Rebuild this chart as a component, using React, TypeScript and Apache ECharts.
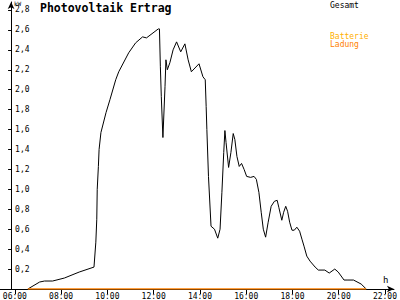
import React, { useEffect, useRef } from "react";
import * as echarts from "echarts";

const pvHours = [
  6.56, 7.07, 7.28, 7.63, 8.14, 8.78, 9.42, 9.5, 9.54, 9.56, 9.61, 9.64, 9.72, 9.94,
  10.11, 10.36, 10.49, 10.92, 11.22, 11.52, 11.69, 12.2, 12.25, 12.29, 12.33, 12.4,
  12.49, 12.53, 12.59, 12.7, 12.84, 12.99, 13.17, 13.35, 13.49, 13.63, 13.96, 14.13,
  14.23, 14.27, 14.3, 14.37, 14.48, 14.63, 14.77, 14.87, 14.95, 15.03, 15.08, 15.13,
  15.24, 15.34, 15.44, 15.51, 15.6, 15.7, 15.8, 15.91, 16.02, 16.19, 16.34, 16.44,
  16.55, 16.65, 16.74, 16.84, 16.95, 17.08, 17.22, 17.34, 17.41, 17.54, 17.62, 17.71,
  17.79, 17.88, 17.98, 18.08, 18.19, 18.31, 18.41, 18.5, 18.62, 18.76, 18.98, 19.12,
  19.4, 19.59, 19.83, 19.98, 20.23, 20.4, 20.64, 20.97, 21.19,
];
const pvValues = [
  0, 0.07, 0.08, 0.08, 0.11, 0.17, 0.22, 0.47, 0.7, 1.0, 1.23, 1.4, 1.57, 1.77,
  1.9, 2.1, 2.18, 2.37, 2.47, 2.53, 2.52, 2.61, 2.61, 2.23, 1.93, 1.52,
  2.03, 2.3, 2.2, 2.27, 2.4, 2.48, 2.38, 2.46, 2.3, 2.18, 2.26, 2.13,
  2.1, 1.83, 1.6, 1.13, 0.63, 0.6, 0.51, 0.6, 0.97, 1.37, 1.59, 1.47,
  1.22, 1.37, 1.56, 1.5, 1.33, 1.23, 1.26, 1.2, 1.13, 1.12, 1.13, 1.1,
  0.97, 0.77, 0.6, 0.52, 0.67, 0.83, 0.88, 0.89, 0.82, 0.69, 0.77, 0.83,
  0.78, 0.67, 0.59, 0.59, 0.62, 0.58, 0.5, 0.43, 0.33, 0.28, 0.22, 0.19,
  0.19, 0.16, 0.2, 0.17, 0.09, 0.09, 0.09, 0.05, 0,
];
const batteryHours = [6.56, 21.19];
const batteryValues = [0, 0];

const xTickHours = [6, 8, 10, 12, 14, 16, 18, 20, 22];
const yTickValues = [0.2, 0.4, 0.6, 0.8, 1.0, 1.2, 1.4, 1.6, 1.8, 2.0, 2.2, 2.4, 2.6, 2.8];

const titleText = "Photovoltaik Ertrag";
const unitY = "kW";
const unitX = "h";
const legendTotal = "Gesamt";
const legendBattery1 = "Batterie";
const legendBattery2 = "Ladung";

const FONT = "DejaVu Sans Mono";

export default function App() {
  const ref = useRef<HTMLDivElement>(null);
  useEffect(() => {
    if (!ref.current) return;
    const chart = echarts.init(ref.current, null, { renderer: "svg" });
    const pad = (n: number) => (n < 10 ? "0" + n : "" + n);
    chart.setOption({
      animation: false,
      backgroundColor: "#ffffff",
      grid: { left: 0, right: 2, top: 2, bottom: 10, containLabel: false },
      xAxis: {
        type: "value",
        min: 5.36,
        max: 22.39,
        splitLine: { show: false },
        axisLine: {
          show: true,
          lineStyle: { color: "#000", width: 1 },
          symbol: ["none", "arrow"],
          symbolSize: [5, 7],
        },
        axisTick: {
          show: true,
          length: 5,
          lineStyle: { color: "#000" },
          customValues: xTickHours,
        },
        axisLabel: {
          show: true,
          customValues: xTickHours,
          margin: 3,
          color: "#000",
          fontFamily: FONT,
          fontSize: 8,
          formatter: (v: number) => pad(Math.round(v)) + ":00",
        },
      },
      yAxis: {
        type: "value",
        min: 0,
        max: 2.88,
        offset: -11,
        splitLine: { show: false },
        axisLine: {
          show: true,
          onZero: false,
          lineStyle: { color: "#000", width: 1 },
          symbol: ["none", "arrow"],
          symbolSize: [5, 7],
        },
        axisTick: {
          show: true,
          length: 3,
          lineStyle: { color: "#000" },
          customValues: yTickValues,
        },
        axisLabel: {
          show: true,
          inside: true,
          margin: 4,
          customValues: yTickValues,
          color: "#000",
          fontFamily: FONT,
          fontSize: 8,
          formatter: (v: number) => v.toFixed(1).replace(".", ","),
        },
      },
      graphic: [
        {
          type: "text",
          left: 40,
          top: 2,
          style: {
            text: titleText,
            fill: "#000",
            font: `bold 11.5px "${FONT}"`,
          },
        },
        {
          type: "text",
          left: 14,
          top: 0,
          style: { text: unitY, fill: "#000", font: `6px "${FONT}"` },
        },
        {
          type: "text",
          left: 383,
          top: 275,
          style: { text: unitX, fill: "#000", font: `9px "${FONT}"` },
        },
        {
          type: "text",
          left: 330,
          top: 1,
          style: { text: legendTotal, fill: "#000", font: `8px "${FONT}"` },
        },
        {
          type: "text",
          left: 330,
          top: 32,
          style: { text: legendBattery1, fill: "#FFB000", font: `8px "${FONT}"` },
        },
        {
          type: "text",
          left: 330,
          top: 40,
          style: { text: legendBattery2, fill: "#FF8000", font: `8px "${FONT}"` },
        },
      ],
      series: [
        {
          name: legendTotal,
          type: "line",
          data: pvHours.map((h, i) => [h, pvValues[i]]),
          showSymbol: false,
          symbol: "none",
          lineStyle: { color: "#000", width: 1 },
          z: 2,
        },
        {
          name: legendBattery1 + " " + legendBattery2,
          type: "line",
          data: batteryHours.map((h, i) => [h, batteryValues[i]]),
          showSymbol: false,
          symbol: "none",
          lineStyle: { color: "#FF8000", width: 1.5 },
          z: 3,
        },
      ],
    });
    return () => chart.dispose();
  }, []);
  return (
    <div
      ref={ref}
      style={{ position: "absolute", left: 0, top: 0, width: 400, height: 300 }}
    />
  );
}
